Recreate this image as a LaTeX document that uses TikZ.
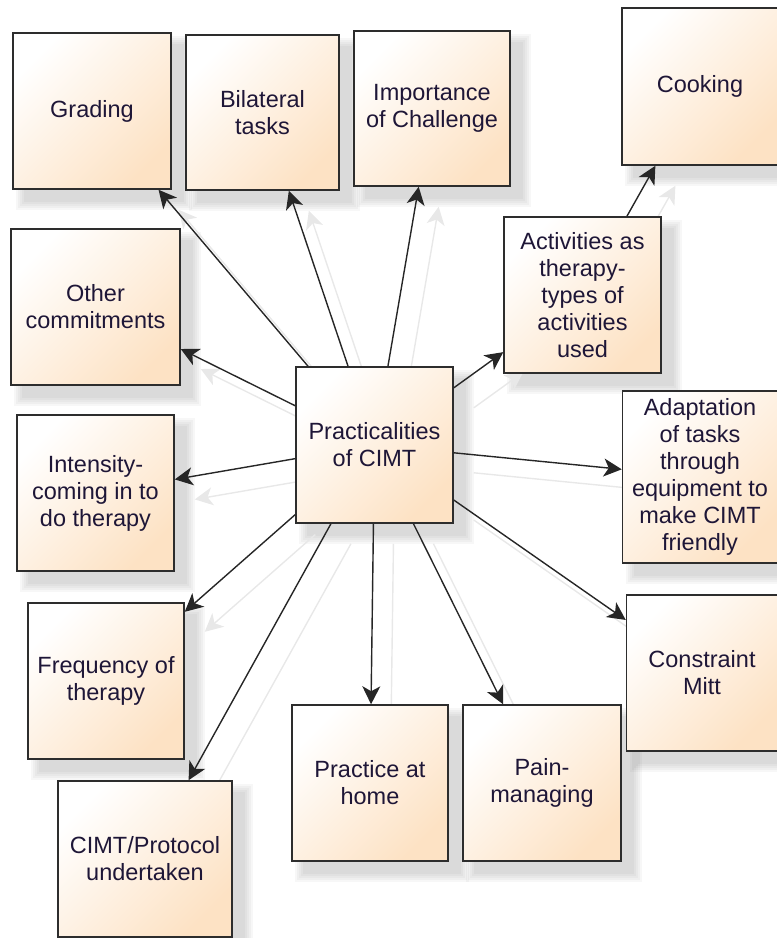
\documentclass[tikz,border=0pt]{standalone}
\usepackage{fontspec}
\setmainfont{Liberation Sans}
\usetikzlibrary{arrows.meta,backgrounds}
\definecolor{peach}{RGB}{253,226,196}
\definecolor{txt}{RGB}{30,22,55}
\definecolor{edgec}{RGB}{45,45,45}
\definecolor{ghostc}{RGB}{232,232,232}
\tikzset{
  box/.style={draw=edgec, line width=1.5pt, left color=white, right color=peach,
    shading angle=45, minimum width=156pt, minimum height=156pt, inner sep=2pt,
    align=center, text=txt, font=\fontsize{23.5}{27}\selectfont},
  link/.style={draw=black!85, line width=1.4pt,
    -{Stealth[length=18pt,width=18pt,inset=5pt]}},
  ghostlink/.style={draw=ghostc, line width=1.4pt,
    -{Stealth[length=18pt,width=18pt,inset=5pt]},
    transform canvas={xshift=20pt,yshift=-20pt}},
}
\newcommand\boxshade[1]{%
  \foreach \k in {0,2,4,6,8}{%
    \fill[black,opacity=0.03]
      ([xshift={(12-\k)*1pt},yshift={-(12-\k)*1pt}]#1.north west) rectangle
      ([xshift={(12+\k)*1pt},yshift={-(12+\k)*1pt}]#1.south east);}}
\begin{document}
\begin{tikzpicture}[x=1pt,y=-1pt]
\useasboundingbox (0,0) rectangle (777,938);
\node[box, minimum width=158pt] (grading) at (92,111) {Grading};
\node[box, minimum width=153pt, minimum height=155pt] (bilat) at (262.5,112.5) {Bilateral\\tasks};
\node[box, minimum height=155pt] (imp) at (432,108.5) {Importance\\of Challenge};
\node[box, minimum height=157pt] (cook) at (700,86.5) {Cooking};
\node[box, minimum width=169pt] (other) at (95.5,307) {Other\\commitments};
\node[box, minimum width=157pt] (act) at (582.5,295) {Activities as\\therapy-\\types of\\activities\\used};
\node[box, minimum width=157pt] (c) at (374.5,445) {Practicalities\\of CIMT};
\node[box, minimum width=157pt] (int) at (95.5,493) {Intensity-\\coming in to\\do therapy};
\node[box, minimum width=155pt, minimum height=172pt] (adapt) at (700,477) {Adaptation\\of tasks\\through\\equipment to\\make CIMT\\friendly};
\node[box] (freq) at (106,681) {Frequency of\\therapy};
\node[box, minimum width=174pt] (cimt) at (145,859) {CIMT/Protocol\\undertaken};
\node[box] (home) at (370,783) {Practice at\\home};
\node[box, minimum width=158pt] (pain) at (542,783) {Pain-\\managing};
\node[box, minimum width=151pt] (cm) at (702,673) {Constraint\\Mitt};

\begin{scope}[on background layer]
  \foreach \n in {grading,bilat,imp,cook,other,act,c,int,adapt,freq,cimt,home,pain,cm}{\boxshade{\n}}
  \foreach \t in {grading,bilat,imp,other,act,int,adapt,freq,cimt,home,pain,cm}{\draw[ghostlink] (c) -- (\t);}
  \draw[ghostlink] (act) -- (cook);
\end{scope}

\foreach \t in {grading,bilat,imp,other,act,int,adapt,freq,cimt,home,pain,cm}{\draw[link] (c) -- (\t);}
\draw[link] (act) -- (cook);
\end{tikzpicture}
\end{document}
